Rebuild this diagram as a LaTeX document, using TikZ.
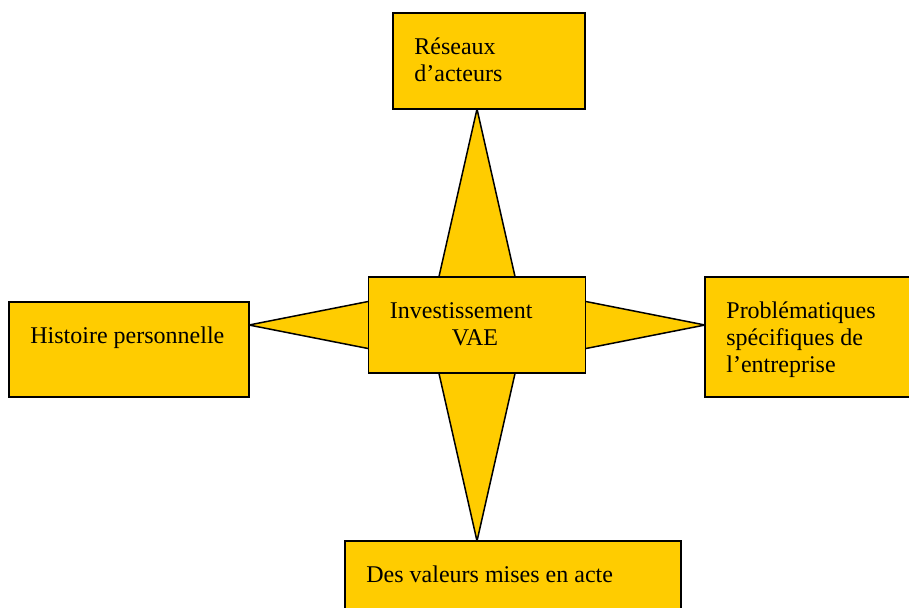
\documentclass[tikz,border=0pt]{standalone}
\usepackage{fontspec}
\setmainfont{Liberation Serif}
\usetikzlibrary{calc}
\definecolor{jaune}{HTML}{FFCC00}
\begin{document}
\begin{tikzpicture}[x=.5pt,y=-.5pt,font=\fontsize{12}{13.5}\selectfont,
  boite/.style={draw,fill=jaune,line width=.6pt,inner sep=0,outer sep=0},
  pointe/.style={draw,fill=jaune,line width=.75pt,line join=miter},
  texte/.style={anchor=base west,align=left,inner sep=0}]
\useasboundingbox (0,0) rectangle (909,607);
\clip (0,0) rectangle (909,607);
%boites
\coordinate (inv) at (477,325);
\coordinate (hb) at (489,61);
\coordinate (gb) at (129,349.5);
\coordinate (db) at (810,337);
\coordinate (bb) at (513,580.5);
%pointes
\draw[pointe] (inv |- 0,109) -- ($(inv)+(49,0)$) -- (inv |- 0,541) -- ($(inv)+(-49,0)$) -- cycle;
\draw[pointe] (249,325) -- ($(inv)+(0,-45)$) -- (705,325) -- ($(inv)+(0,45)$) -- cycle;
%noeuds
\node[boite,minimum width=96pt,minimum height=48pt] (reseaux) at (hb) {};
\node[boite,minimum width=108.5pt,minimum height=48pt] (invest) at (inv) {};
\node[boite,minimum width=120pt,minimum height=47.5pt] (histoire) at (gb) {};
\node[boite,minimum width=105pt,minimum height=60pt] (probleme) at (db) {};
\node[boite,minimum width=168pt,minimum height=39.5pt] (valeurs) at (bb) {};
%textes (base = derniere ligne)
\node[texte] (treseaux) at ($(reseaux.north west)+(21,68)$) {Réseaux\\d’acteurs};
\node[texte] (tinvest) at ($(invest.north west)+(21,68)$) {Investissement\\\hspace*{31pt}VAE};
\node[texte] (thistoire) at ($(histoire.north west)+(21,41)$) {Histoire personnelle};
\node[texte] (tprobleme) at ($(probleme.north west)+(21,95)$) {Problématiques\\spécifiques de\\l’entreprise};
\node[texte] (tvaleurs) at ($(valeurs.north west)+(21,41)$) {Des valeurs mises en acte};
\end{tikzpicture}
\end{document}
